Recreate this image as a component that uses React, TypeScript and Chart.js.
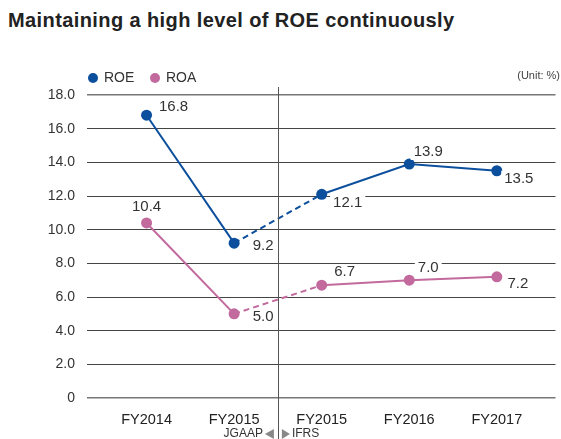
import React, { useEffect, useRef } from "react";
import { Chart, registerables } from "chart.js";

Chart.register(...registerables);

const categories = ["FY2014", "FY2015", "FY2015", "FY2016", "FY2017"];
const roeValues = [16.8, 9.2, 12.1, 13.9, 13.5];
const roaValues = [10.4, 5.0, 6.7, 7.0, 7.2];
const yTicks = [0, 2, 4, 6, 8, 10, 12, 14, 16, 18];
const seriesNames = ["ROE", "ROA"];

const ROE_COLOR = "#0b4f9d";
const ROA_COLOR = "#c2699d";
const FONT = "'Liberation Sans', Arial, Helvetica, sans-serif";

// label offsets relative to each point (layout, not data)
const roeOffsets = [[27, -8], [29, 3], [26, 9], [19, -12], [22, 8]];
const roaOffsets = [[0, -16], [29, 3], [23, -13], [19, -12], [21, 7]];

const overlayPlugin = {
  id: "overlay",
  afterDatasetsDraw(chart: any) {
    const ctx = chart.ctx;
    const xs = chart.scales.x;
    const area = chart.chartArea;
    ctx.save();
    // divider
    const dx = Math.round(xs.getPixelForValue(1.5)) + 0.5;
    ctx.strokeStyle = "#555";
    ctx.lineWidth = 1;
    ctx.beginPath();
    ctx.moveTo(dx, area.top - 8);
    ctx.lineTo(dx, 439);
    ctx.stroke();

    // data labels
    ctx.font = `15px ${FONT}`;
    ctx.textAlign = "center";
    ctx.textBaseline = "middle";
    const offs = [roeOffsets, roaOffsets];
    chart.data.datasets.forEach((ds: any, di: number) => {
      const meta = chart.getDatasetMeta(di);
      meta.data.forEach((pt: any, i: number) => {
        const v = ds.data[i].y;
        const txt = v.toFixed(1);
        const x = pt.x + offs[di][i][0];
        const y = pt.y + offs[di][i][1];
        const w = ctx.measureText(txt).width;
        ctx.fillStyle = "#fff";
        ctx.fillRect(x - w / 2 - 3, y - 8, w + 6, 16);
        ctx.fillStyle = "#333";
        ctx.fillText(txt, x, y);
      });
    });
    ctx.restore();
  },
  afterDraw(chart: any) {
    const ctx = chart.ctx;
    const xs = chart.scales.x;
    ctx.save();
    // legend
    const items = [
      { name: seriesNames[0], color: ROE_COLOR, cx: 93, tx: 104 },
      { name: seriesNames[1], color: ROA_COLOR, cx: 155, tx: 166 },
    ];
    ctx.textBaseline = "middle";
    ctx.textAlign = "left";
    ctx.font = `14px ${FONT}`;
    items.forEach((it) => {
      ctx.fillStyle = it.color;
      ctx.beginPath();
      ctx.arc(it.cx, 78, 5, 0, Math.PI * 2);
      ctx.fill();
      ctx.fillStyle = "#333";
      ctx.fillText(it.name, it.tx, 78);
    });
    // unit
    ctx.font = `11px ${FONT}`;
    ctx.textAlign = "right";
    ctx.fillStyle = "#444";
    ctx.fillText("(Unit: %)", 560, 76);

    // JGAAP / IFRS
    const dx = xs.getPixelForValue(1.5);
    const yy = 434;
    ctx.font = `12px ${FONT}`;
    ctx.fillStyle = "#333";
    ctx.textAlign = "right";
    ctx.fillText("JGAAP", dx - 15, yy);
    ctx.textAlign = "left";
    ctx.fillText("IFRS", dx + 14, yy);
    ctx.fillStyle = "#888";
    ctx.beginPath();
    ctx.moveTo(dx - 13, yy);
    ctx.lineTo(dx - 4, yy - 5);
    ctx.lineTo(dx - 4, yy + 5);
    ctx.closePath();
    ctx.fill();
    ctx.beginPath();
    ctx.moveTo(dx + 12, yy);
    ctx.lineTo(dx + 4, yy - 5);
    ctx.lineTo(dx + 4, yy + 5);
    ctx.closePath();
    ctx.fill();
    ctx.restore();
  },
};

export default function App() {
  const ref = useRef<HTMLCanvasElement>(null);
  useEffect(() => {
    if (!ref.current) return;
    const mk = (vals: number[]) => vals.map((v, i) => ({ x: i, y: v }));
    const dash = (c: any) => (c.p0DataIndex === 1 ? [6, 4] : undefined);
    const chart = new Chart(ref.current, {
      type: "line",
      data: {
        datasets: [
          {
            label: seriesNames[0],
            data: mk(roeValues),
            borderColor: ROE_COLOR,
            backgroundColor: ROE_COLOR,
            borderWidth: 2,
            pointRadius: 5.5,
            pointBorderWidth: 0,
            segment: { borderDash: dash },
          },
          {
            label: seriesNames[1],
            data: mk(roaValues),
            borderColor: ROA_COLOR,
            backgroundColor: ROA_COLOR,
            borderWidth: 2,
            pointRadius: 5.5,
            pointBorderWidth: 0,
            segment: { borderDash: dash },
          },
        ],
      },
      options: {
        animation: false,
        responsive: false,
        maintainAspectRatio: false,
        layout: { padding: { top: 95, right: 0, left: 0, bottom: 0 } },
        plugins: {
          legend: { display: false },
          tooltip: { enabled: false },
          title: { display: false },
        },
        scales: {
          x: {
            type: "linear",
            min: -0.68,
            max: 4.67,
            grid: { display: false },
            border: { display: false },
            afterBuildTicks: (s: any) => {
              s.ticks = categories.map((_, i) => ({ value: i }));
            },
            afterFit: (s: any) => {
              s.height = 41;
            },
            ticks: {
              autoSkip: false,
              maxRotation: 0,
              padding: 5,
              color: "#222",
              font: { family: FONT, size: 14.5 },
              callback: (v: any) => categories[v] ?? "",
            },
          },
          y: {
            min: 0,
            max: 18,
            afterBuildTicks: (s: any) => {
              s.ticks = yTicks.map((v) => ({ value: v }));
            },
            afterFit: (s: any) => {
              s.width = 87;
            },
            border: { display: false },
            grid: {
              drawTicks: false,
              color: (c: any) =>
                c.tick && (c.tick.value === 0 || c.tick.value === 18) ? "#777" : "#444",
              lineWidth: (c: any) =>
                c.tick && (c.tick.value === 0 || c.tick.value === 18) ? 1.6 : 1,
            },
            ticks: {
              padding: 12,
              color: "#333",
              font: { family: FONT, size: 14 },
              callback: (v: any) => (v === 0 ? "0" : Number(v).toFixed(1)),
            },
          },
        },
      },
      plugins: [overlayPlugin],
    } as any);
    return () => chart.destroy();
  }, []);

  return (
    <div style={{ position: "fixed", left: 0, top: 0, width: 561, height: 439, background: "#fff" }}>
      <div
        style={{
          position: "absolute",
          left: 8,
          top: 8,
          fontFamily: FONT,
          fontSize: 20,
          fontWeight: 700,
          letterSpacing: "0.4px",
          color: "#222",
          whiteSpace: "nowrap",
          lineHeight: "24px",
        }}
      >
        Maintaining a high level of ROE continuously
      </div>
      <canvas ref={ref} width={561} height={439} style={{ position: "absolute", left: 0, top: 0, display: "block" }} />
    </div>
  );
}
